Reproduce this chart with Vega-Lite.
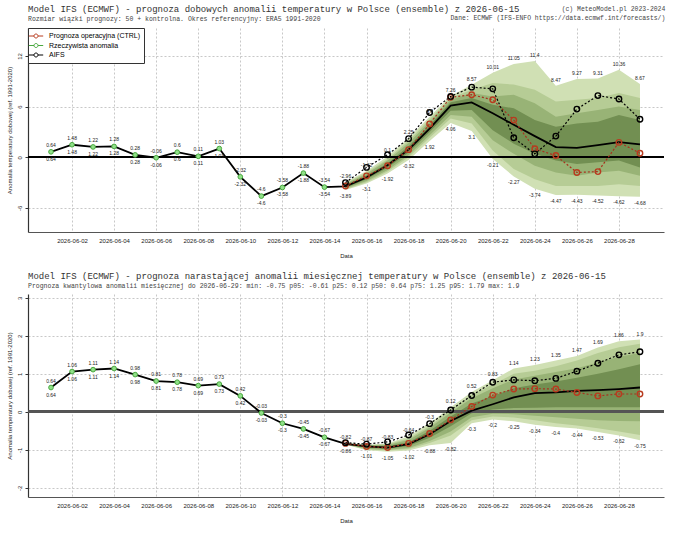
{
  "$schema": "https://vega.github.io/schema/vega-lite/v6.json",
  "background": "white",
  "padding": {"left": 5, "top": 5, "right": 5, "bottom": 0},
  "spacing": 13,
  "title": {
    "text": "(c) MeteoModel.pl 2023-2024",
    "subtitle": "Dane: ECMWF (IFS-ENFO https://data.ecmwf.int/forecasts/)",
    "anchor": "end", "frame": "bounds", "offset": -16.5,
    "font": "Liberation Mono", "fontSize": 6.4, "fontWeight": "normal", "color": "#444",
    "subtitleFont": "Liberation Mono", "subtitleFontSize": 6.4, "subtitleColor": "#444", "subtitlePadding": 2.5
  },
  "config": {
    "view": {"stroke": null},
    "font": "Liberation Sans",
    "axis": {
      "labelFont": "Liberation Sans", "labelFontSize": 6, "labelColor": "#222",
      "titleFont": "Liberation Sans", "titleFontSize": 6, "titleFontWeight": "normal", "titleColor": "#222",
      "gridColor": "#b0b0b0", "gridWidth": 0.7, "gridDash": [2, 2],
      "domainColor": "#333", "domainWidth": 1.2, "tickColor": "#333"
    }
  },
  "resolve": {
    "scale": {"stroke": "independent"},
    "legend": {"stroke": "independent"}
  },
  "datasets": {
    "daily": [
      {"date": "2026-06-01", "obs": 0.64},
      {"date": "2026-06-02", "obs": 1.48},
      {"date": "2026-06-03", "obs": 1.22},
      {"date": "2026-06-04", "obs": 1.28},
      {"date": "2026-06-05", "obs": 0.28},
      {"date": "2026-06-06", "obs": -0.06},
      {"date": "2026-06-07", "obs": 0.6},
      {"date": "2026-06-08", "obs": 0.11},
      {"date": "2026-06-09", "obs": 1.03},
      {"date": "2026-06-10", "obs": -2.32},
      {"date": "2026-06-11", "obs": -4.6},
      {"date": "2026-06-12", "obs": -3.58},
      {"date": "2026-06-13", "obs": -1.88},
      {"date": "2026-06-14", "obs": -3.54},
      {"date": "2026-06-15", "min": -3.89, "p05": -3.8, "p10": -3.7, "p25": -3.6, "med": -3.45, "p75": -3.35, "p90": -3.2, "p95": -3.1, "max": -2.96, "ctrl": -3.4, "aifs": -3.0},
      {"date": "2026-06-16", "min": -3.1, "p05": -2.95, "p10": -2.8, "p25": -2.6, "med": -2.4, "p75": -2.15, "p90": -1.95, "p95": -1.8, "max": -1.62, "ctrl": -2.2, "aifs": -1.2},
      {"date": "2026-06-17", "min": -1.92, "p05": -1.7, "p10": -1.5, "p25": -1.25, "med": -0.95, "p75": -0.7, "p90": -0.4, "p95": -0.2, "max": 0.1, "ctrl": -1.0, "aifs": 0.3},
      {"date": "2026-06-18", "min": -0.32, "p05": 0.0, "p10": 0.25, "p25": 0.55, "med": 0.9, "p75": 1.3, "p90": 1.7, "p95": 1.95, "max": 2.25, "ctrl": 0.9, "aifs": 2.2},
      {"date": "2026-06-19", "min": 1.92, "p05": 2.3, "p10": 2.6, "p25": 3.0, "med": 3.4, "p75": 3.8, "p90": 4.2, "p95": 4.5, "max": 4.8, "ctrl": 3.95, "aifs": 5.3},
      {"date": "2026-06-20", "min": 4.06, "p05": 4.6, "p10": 5.0, "p25": 5.5, "med": 6.1, "p75": 6.5, "p90": 6.8, "p95": 7.0, "max": 7.26, "ctrl": 7.1, "aifs": 7.2},
      {"date": "2026-06-21", "min": 3.1, "p05": 4.0, "p10": 4.8, "p25": 5.6, "med": 6.5, "p75": 7.0, "p90": 7.6, "p95": 8.0, "max": 8.57, "ctrl": 7.4, "aifs": 8.3},
      {"date": "2026-06-22", "min": -0.21, "p05": 0.8, "p10": 2.0, "p25": 3.2, "med": 5.2, "p75": 6.2, "p90": 7.2, "p95": 8.8, "max": 10.01, "ctrl": 6.8, "aifs": 8.1},
      {"date": "2026-06-23", "min": -2.27, "p05": -1.4, "p10": 0.4, "p25": 1.6, "med": 3.85, "p75": 5.8, "p90": 7.4, "p95": 8.6, "max": 11.05, "ctrl": 4.4, "aifs": 2.3},
      {"date": "2026-06-24", "min": -3.74, "p05": -2.6, "p10": -1.0, "p25": 0.4, "med": 2.5, "p75": 4.4, "p90": 6.4, "p95": 8.0, "max": 11.4, "ctrl": 1.0, "aifs": 0.4},
      {"date": "2026-06-25", "min": -4.47, "p05": -3.4, "p10": -1.8, "p25": -0.4, "med": 1.2, "p75": 3.6, "p90": 4.8, "p95": 6.6, "max": 8.47, "ctrl": 0.2, "aifs": 2.5},
      {"date": "2026-06-26", "min": -4.43, "p05": -3.4, "p10": -2.2, "p25": -0.8, "med": 1.12, "p75": 4.0, "p90": 5.2, "p95": 6.8, "max": 9.27, "ctrl": -1.8, "aifs": 5.7},
      {"date": "2026-06-27", "min": -4.52, "p05": -3.4, "p10": -1.8, "p25": -0.6, "med": 1.44, "p75": 4.2, "p90": 5.6, "p95": 7.0, "max": 9.31, "ctrl": -1.7, "aifs": 7.3},
      {"date": "2026-06-28", "min": -4.62, "p05": -3.2, "p10": -1.6, "p25": -0.4, "med": 1.8, "p75": 5.0, "p90": 6.0, "p95": 7.6, "max": 10.36, "ctrl": 1.76, "aifs": 6.9},
      {"date": "2026-06-29", "min": -4.68, "p05": -3.4, "p10": -2.2, "p25": -1.2, "med": 1.52, "p75": 4.4, "p90": 5.6, "p95": 7.0, "max": 8.67, "ctrl": 0.48, "aifs": 4.5}
    ],
    "monthly": [
      {"date": "2026-06-01", "obs": 0.64},
      {"date": "2026-06-02", "obs": 1.06},
      {"date": "2026-06-03", "obs": 1.11},
      {"date": "2026-06-04", "obs": 1.14},
      {"date": "2026-06-05", "obs": 0.98},
      {"date": "2026-06-06", "obs": 0.81},
      {"date": "2026-06-07", "obs": 0.78},
      {"date": "2026-06-08", "obs": 0.69},
      {"date": "2026-06-09", "obs": 0.73},
      {"date": "2026-06-10", "obs": 0.42},
      {"date": "2026-06-11", "obs": -0.03},
      {"date": "2026-06-12", "obs": -0.3},
      {"date": "2026-06-13", "obs": -0.45},
      {"date": "2026-06-14", "obs": -0.67},
      {"date": "2026-06-15", "min": -0.86, "p05": -0.86, "p10": -0.85, "p25": -0.84, "med": -0.84, "p75": -0.83, "p90": -0.83, "p95": -0.82, "max": -0.82, "ctrl": -0.83, "aifs": -0.81},
      {"date": "2026-06-16", "min": -1.01, "p05": -0.99, "p10": -0.97, "p25": -0.94, "med": -0.91, "p75": -0.89, "p90": -0.88, "p95": -0.87, "max": -0.87, "ctrl": -0.91, "aifs": -0.85},
      {"date": "2026-06-17", "min": -1.05, "p05": -1.02, "p10": -1.0, "p25": -0.97, "med": -0.94, "p75": -0.9, "p90": -0.87, "p95": -0.85, "max": -0.83, "ctrl": -0.94, "aifs": -0.79},
      {"date": "2026-06-18", "min": -1.02, "p05": -0.98, "p10": -0.95, "p25": -0.9, "med": -0.85, "p75": -0.8, "p90": -0.74, "p95": -0.7, "max": -0.64, "ctrl": -0.83, "aifs": -0.61},
      {"date": "2026-06-19", "min": -0.88, "p05": -0.82, "p10": -0.77, "p25": -0.68, "med": -0.59, "p75": -0.5, "p90": -0.42, "p95": -0.37, "max": -0.3, "ctrl": -0.57, "aifs": -0.31},
      {"date": "2026-06-20", "min": -0.82, "p05": -0.62, "p10": -0.52, "p25": -0.38, "med": -0.24, "p75": -0.12, "p90": -0.02, "p95": 0.04, "max": 0.12, "ctrl": -0.21, "aifs": 0.05},
      {"date": "2026-06-21", "min": -0.3, "p05": -0.22, "p10": -0.14, "p25": -0.04, "med": 0.03, "p75": 0.22, "p90": 0.36, "p95": 0.44, "max": 0.52, "ctrl": 0.14, "aifs": 0.43},
      {"date": "2026-06-22", "min": -0.2, "p05": -0.12, "p10": -0.05, "p25": 0.06, "med": 0.2, "p75": 0.42, "p90": 0.62, "p95": 0.72, "max": 0.83, "ctrl": 0.44, "aifs": 0.78},
      {"date": "2026-06-23", "min": -0.25, "p05": -0.15, "p10": -0.06, "p25": 0.1, "med": 0.38, "p75": 0.62, "p90": 0.85, "p95": 1.0, "max": 1.14, "ctrl": 0.6, "aifs": 0.84},
      {"date": "2026-06-24", "min": -0.34, "p05": -0.22, "p10": -0.1, "p25": 0.11, "med": 0.49, "p75": 0.72, "p90": 0.95, "p95": 1.08, "max": 1.23, "ctrl": 0.61, "aifs": 0.82},
      {"date": "2026-06-25", "min": -0.4, "p05": -0.3, "p10": -0.14, "p25": 0.12, "med": 0.51, "p75": 0.8, "p90": 1.05, "p95": 1.2, "max": 1.35, "ctrl": 0.6, "aifs": 0.88},
      {"date": "2026-06-26", "min": -0.44, "p05": -0.36, "p10": -0.18, "p25": 0.12, "med": 0.55, "p75": 0.9, "p90": 1.15, "p95": 1.35, "max": 1.47, "ctrl": 0.51, "aifs": 1.07},
      {"date": "2026-06-27", "min": -0.53, "p05": -0.43, "p10": -0.22, "p25": 0.12, "med": 0.57, "p75": 1.0, "p90": 1.3, "p95": 1.55, "max": 1.69, "ctrl": 0.42, "aifs": 1.28},
      {"date": "2026-06-28", "min": -0.62, "p05": -0.52, "p10": -0.24, "p25": 0.12, "med": 0.6, "p75": 1.12, "p90": 1.45, "p95": 1.7, "max": 1.86, "ctrl": 0.47, "aifs": 1.5},
      {"date": "2026-06-29", "min": -0.75, "p05": -0.61, "p10": -0.25, "p25": 0.12, "med": 0.64, "p75": 1.25, "p90": 1.55, "p95": 1.79, "max": 1.9, "ctrl": 0.47, "aifs": 1.58}
    ]
  },
  "vconcat": [
    {
      "title": {
        "text": "Model IFS (ECMWF) - prognoza dobowych anomalii temperatury w Polsce (ensemble) z 2026-06-15",
        "subtitle": "Rozmiar wiązki prognozy: 50 + kontrolna. Okres referencyjny: ERA5 1991-2020",
        "anchor": "start", "frame": "group", "font": "Liberation Mono", "fontSize": 9, "fontWeight": "normal",
        "color": "#333", "subtitleFont": "Liberation Mono", "subtitleFontSize": 6.5, "subtitleColor": "#444",
        "subtitlePadding": 2, "offset": 5
      },
      "width": 636,
      "height": 204,
      "data": {"name": "daily"},
      "encoding": {
        "x": {
          "field": "date", "type": "temporal",
          "scale": {"type": "utc", "domain": [
            {"year": 2026, "month": 5, "date": 30, "hours": 21, "minutes": 45, "utc": true},
            {"year": 2026, "month": 6, "date": 30, "hours": 3, "minutes": 25, "utc": true}]},
          "axis": {
            "title": "Data", "labelExpr": "utcFormat(datum.value, '%Y-%m-%d')", "ticks": false,
            "labelPadding": 5, "titlePadding": 9, "labelOverlap": false, "labelFlush": false, "domainColor": "#555",
            "values": [
              {"year": 2026, "month": 6, "date": 2, "utc": true}, {"year": 2026, "month": 6, "date": 4, "utc": true},
              {"year": 2026, "month": 6, "date": 6, "utc": true}, {"year": 2026, "month": 6, "date": 8, "utc": true},
              {"year": 2026, "month": 6, "date": 10, "utc": true}, {"year": 2026, "month": 6, "date": 12, "utc": true},
              {"year": 2026, "month": 6, "date": 14, "utc": true}, {"year": 2026, "month": 6, "date": 16, "utc": true},
              {"year": 2026, "month": 6, "date": 18, "utc": true}, {"year": 2026, "month": 6, "date": 20, "utc": true},
              {"year": 2026, "month": 6, "date": 22, "utc": true}, {"year": 2026, "month": 6, "date": 24, "utc": true},
              {"year": 2026, "month": 6, "date": 26, "utc": true}, {"year": 2026, "month": 6, "date": 28, "utc": true}]
          }
        }
      },
      "layer": [
        {
          "mark": {"type": "area", "color": "#d0e0b4"},
          "encoding": {
            "y": {"field": "min", "type": "quantitative",
              "scale": {"domain": [-8.85, 15.3], "nice": false, "zero": false},
              "axis": {"title": "Anomalia temperatury dobowej (ref. 1991-2020)", "values": [-6, -3, 0, 3, 6, 9, 12, 15],
                "labelExpr": "'' + datum.value", "labelAngle": -90, "labelAlign": "center", "labelBaseline": "bottom",
                "tickSize": 3, "labelPadding": 3, "titlePadding": 4}},
            "y2": {"field": "max"}
          }
        },
        {"mark": {"type": "area", "color": "#b6cc95"}, "encoding": {"y": {"field": "p05", "type": "quantitative"}, "y2": {"field": "p95"}}},
        {"mark": {"type": "area", "color": "#98b376"}, "encoding": {"y": {"field": "p10", "type": "quantitative"}, "y2": {"field": "p90"}}},
        {"mark": {"type": "area", "color": "#728f52"}, "encoding": {"y": {"field": "p25", "type": "quantitative"}, "y2": {"field": "p75"}}},
        {
          "mark": {"type": "rule", "color": "#000", "strokeWidth": 1.5},
          "encoding": {
            "x": {"datum": {"year": 2026, "month": 5, "date": 30, "hours": 21, "minutes": 45, "utc": true}, "type": "temporal"},
            "x2": {"datum": {"year": 2026, "month": 6, "date": 30, "hours": 3, "minutes": 25, "utc": true}},
            "y": {"datum": 0, "type": "quantitative"}
          }
        },
        {
          "transform": [{"fold": ["obs", "med"], "as": ["part", "value"]}, {"filter": "isValid(datum.value)"}],
          "mark": {"type": "line", "color": "#000", "strokeWidth": 1.8},
          "encoding": {"y": {"field": "value", "type": "quantitative"}}
        },
        {
          "mark": {"type": "line", "color": "#a8321e", "strokeWidth": 1.2, "strokeDash": [2, 2]},
          "encoding": {"y": {"field": "ctrl", "type": "quantitative"}}
        },
        {
          "mark": {"type": "line", "color": "#000", "strokeWidth": 1.2, "strokeDash": [2, 2]},
          "encoding": {"y": {"field": "aifs", "type": "quantitative"}}
        },
        {
          "transform": [{"fold": ["ctrl", "obs", "aifs"], "as": ["series", "value"]}, {"filter": "isValid(datum.value)"}],
          "mark": {"type": "point", "shape": "circle", "opacity": 1},
          "encoding": {
            "y": {"field": "value", "type": "quantitative"},
            "stroke": {"field": "series", "type": "nominal",
              "scale": {"domain": ["ctrl", "obs", "aifs"], "range": ["#b83b1f", "#49a83f", "#000000"]},
              "legend": {"orient": "top-left", "offset": 0, "title": null,
                "labelExpr": "datum.value == 'ctrl' ? 'Prognoza operacyjna (CTRL)' : datum.value == 'obs' ? 'Rzeczywista anomalia' : 'AIFS'",
                "symbolType": "M-1.8,0H-0.5M0.5,0H1.8M0.5,0A0.5,0.5,0,1,1,-0.5,0A0.5,0.5,0,1,1,0.5,0",
                "symbolSize": 64, "symbolStrokeWidth": 1, "symbolFillColor": "white",
                "labelFont": "Liberation Sans", "labelFontSize": 7, "labelColor": "#000", "labelOffset": 8.5,
                "strokeColor": "#333", "fillColor": "white", "padding": 3.5, "rowPadding": 0.5}},
            "fill": {"condition": {"test": "datum.series == 'obs'", "value": "#90e088"}, "value": "transparent"},
            "size": {"condition": {"test": "datum.series == 'obs'", "value": 22}, "value": 30},
            "strokeWidth": {"condition": {"test": "datum.series == 'obs'", "value": 1}, "value": 1.4}
          }
        },
        {
          "transform": [{"filter": "isValid(datum.max)"}],
          "mark": {"type": "text", "dy": -6, "fontSize": 5, "color": "#222"},
          "encoding": {"y": {"field": "max", "type": "quantitative"}, "text": {"field": "max", "type": "nominal"}}
        },
        {
          "transform": [{"filter": "isValid(datum.min)"}],
          "mark": {"type": "text", "dy": 6, "fontSize": 5, "color": "#222"},
          "encoding": {"y": {"field": "min", "type": "quantitative"}, "text": {"field": "min", "type": "nominal"}}
        },
        {
          "transform": [{"filter": "isValid(datum.obs)"}],
          "mark": {"type": "text", "dy": -7, "fontSize": 5, "color": "#222"},
          "encoding": {"y": {"field": "obs", "type": "quantitative"}, "text": {"field": "obs", "type": "nominal"}}
        },
        {
          "transform": [{"filter": "isValid(datum.obs)"}],
          "mark": {"type": "text", "dy": 7, "fontSize": 5, "color": "#222"},
          "encoding": {"y": {"field": "obs", "type": "quantitative"}, "text": {"field": "obs", "type": "nominal"}}
        }
      ]
    },
    {
      "title": {
        "text": "Model IFS (ECMWF) - prognoza narastającej anomalii miesięcznej temperatury w Polsce (ensemble) z 2026-06-15",
        "subtitle": "Prognoza kwantylowa anomalii miesięcznej do 2026-06-29: min: -0.75 p05: -0.61 p25: 0.12 p50: 0.64 p75: 1.25 p95: 1.79 max: 1.9",
        "anchor": "start", "frame": "group", "font": "Liberation Mono", "fontSize": 9, "fontWeight": "normal",
        "color": "#333", "subtitleFont": "Liberation Mono", "subtitleFontSize": 6.5, "subtitleColor": "#444",
        "subtitlePadding": 2, "offset": 5
      },
      "width": 636,
      "height": 203,
      "data": {"name": "monthly"},
      "encoding": {
        "x": {
          "field": "date", "type": "temporal",
          "scale": {"type": "utc", "domain": [
            {"year": 2026, "month": 5, "date": 30, "hours": 21, "minutes": 45, "utc": true},
            {"year": 2026, "month": 6, "date": 30, "hours": 3, "minutes": 25, "utc": true}]},
          "axis": {
            "title": "Data", "labelExpr": "utcFormat(datum.value, '%Y-%m-%d')", "ticks": false,
            "labelPadding": 5, "titlePadding": 9, "labelOverlap": false, "labelFlush": false, "domainColor": "#555",
            "values": [
              {"year": 2026, "month": 6, "date": 2, "utc": true}, {"year": 2026, "month": 6, "date": 4, "utc": true},
              {"year": 2026, "month": 6, "date": 6, "utc": true}, {"year": 2026, "month": 6, "date": 8, "utc": true},
              {"year": 2026, "month": 6, "date": 10, "utc": true}, {"year": 2026, "month": 6, "date": 12, "utc": true},
              {"year": 2026, "month": 6, "date": 14, "utc": true}, {"year": 2026, "month": 6, "date": 16, "utc": true},
              {"year": 2026, "month": 6, "date": 18, "utc": true}, {"year": 2026, "month": 6, "date": 20, "utc": true},
              {"year": 2026, "month": 6, "date": 22, "utc": true}, {"year": 2026, "month": 6, "date": 24, "utc": true},
              {"year": 2026, "month": 6, "date": 26, "utc": true}, {"year": 2026, "month": 6, "date": 28, "utc": true}]
          }
        }
      },
      "layer": [
        {
          "mark": {"type": "area", "color": "#d0e0b4"},
          "encoding": {
            "y": {"field": "min", "type": "quantitative",
              "scale": {"domain": [-2.24, 3.1], "nice": false, "zero": false},
              "axis": {"title": "Anomalia temperatury dobowej (ref. 1991-2020)", "values": [-2, -1, 0, 1, 2, 3],
                "labelExpr": "'' + datum.value", "labelAngle": -90, "labelAlign": "center", "labelBaseline": "bottom",
                "tickSize": 3, "labelPadding": 3, "titlePadding": 4}},
            "y2": {"field": "max"}
          }
        },
        {"mark": {"type": "area", "color": "#b6cc95"}, "encoding": {"y": {"field": "p05", "type": "quantitative"}, "y2": {"field": "p95"}}},
        {"mark": {"type": "area", "color": "#98b376"}, "encoding": {"y": {"field": "p10", "type": "quantitative"}, "y2": {"field": "p90"}}},
        {"mark": {"type": "area", "color": "#728f52"}, "encoding": {"y": {"field": "p25", "type": "quantitative"}, "y2": {"field": "p75"}}},
        {
          "mark": {"type": "rule", "color": "#555", "strokeWidth": 2.5},
          "encoding": {
            "x": {"datum": {"year": 2026, "month": 5, "date": 30, "hours": 21, "minutes": 45, "utc": true}, "type": "temporal"},
            "x2": {"datum": {"year": 2026, "month": 6, "date": 30, "hours": 3, "minutes": 25, "utc": true}},
            "y": {"datum": 0, "type": "quantitative"}
          }
        },
        {
          "transform": [{"fold": ["obs", "med"], "as": ["part", "value"]}, {"filter": "isValid(datum.value)"}],
          "mark": {"type": "line", "color": "#000", "strokeWidth": 1.8},
          "encoding": {"y": {"field": "value", "type": "quantitative"}}
        },
        {
          "mark": {"type": "line", "color": "#a8321e", "strokeWidth": 1.2, "strokeDash": [2, 2]},
          "encoding": {"y": {"field": "ctrl", "type": "quantitative"}}
        },
        {
          "mark": {"type": "line", "color": "#000", "strokeWidth": 1.2, "strokeDash": [2, 2]},
          "encoding": {"y": {"field": "aifs", "type": "quantitative"}}
        },
        {
          "transform": [{"fold": ["ctrl", "obs", "aifs"], "as": ["series", "value"]}, {"filter": "isValid(datum.value)"}],
          "mark": {"type": "point", "shape": "circle", "opacity": 1},
          "encoding": {
            "y": {"field": "value", "type": "quantitative"},
            "stroke": {"condition": [{"test": "datum.series == 'ctrl'", "value": "#b83b1f"}, {"test": "datum.series == 'obs'", "value": "#49a83f"}], "value": "#000000"},
            "fill": {"condition": {"test": "datum.series == 'obs'", "value": "#90e088"}, "value": "transparent"},
            "size": {"condition": {"test": "datum.series == 'obs'", "value": 22}, "value": 30},
            "strokeWidth": {"condition": {"test": "datum.series == 'obs'", "value": 1}, "value": 1.4}
          }
        },
        {
          "transform": [{"filter": "isValid(datum.max)"}],
          "mark": {"type": "text", "dy": -6, "fontSize": 5, "color": "#222"},
          "encoding": {"y": {"field": "max", "type": "quantitative"}, "text": {"field": "max", "type": "nominal"}}
        },
        {
          "transform": [{"filter": "isValid(datum.min)"}],
          "mark": {"type": "text", "dy": 6, "fontSize": 5, "color": "#222"},
          "encoding": {"y": {"field": "min", "type": "quantitative"}, "text": {"field": "min", "type": "nominal"}}
        },
        {
          "transform": [{"filter": "isValid(datum.obs)"}],
          "mark": {"type": "text", "dy": -7, "fontSize": 5, "color": "#222"},
          "encoding": {"y": {"field": "obs", "type": "quantitative"}, "text": {"field": "obs", "type": "nominal"}}
        },
        {
          "transform": [{"filter": "isValid(datum.obs)"}],
          "mark": {"type": "text", "dy": 7, "fontSize": 5, "color": "#222"},
          "encoding": {"y": {"field": "obs", "type": "quantitative"}, "text": {"field": "obs", "type": "nominal"}}
        }
      ]
    }
  ]
}
